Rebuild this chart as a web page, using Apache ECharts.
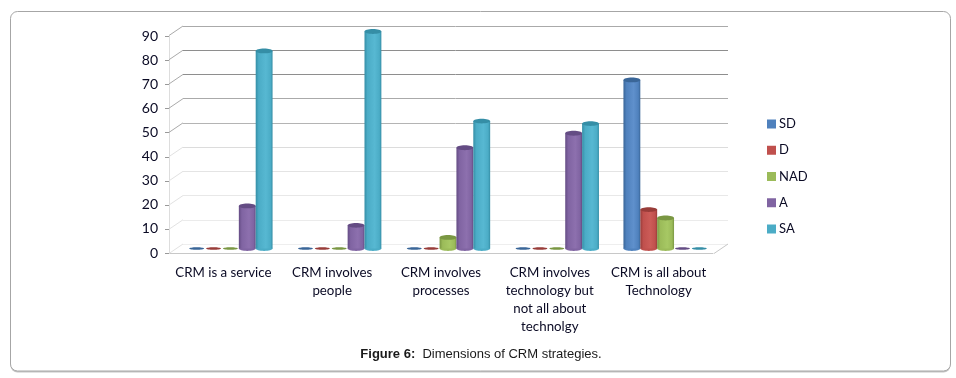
<!DOCTYPE html>
<html lang="en">
<head>
    <meta charset="UTF-8">
    <title>Dimensions of CRM strategies</title>
    <script src="https://cdn.jsdelivr.net/npm/echarts@6/dist/echarts.min.js"></script>
    <style>
        html, body { margin: 0; padding: 0; background: #fff; }
        #main { width: 956px; height: 378px; }
    </style>
</head>
<body>
    <div id="main"></div>

    <script>
        const categories = [
            'CRM is a service',
            'CRM involves\npeople',
            'CRM involves\nprocesses',
            'CRM involves\ntechnology but\nnot all about\ntechnolgy',
            'CRM is all about\nTechnology'
        ];
        const seriesNames = ['SD', 'D', 'NAD', 'A', 'SA'];
        const sdValues = [0, 0, 0, 0, 70];
        const dValues = [0, 0, 0, 0, 16.5];
        const nadValues = [0, 0, 5, 0, 13];
        const aValues = [18, 10, 42, 48, 0];
        const saValues = [82, 90, 53, 52, 0];
        const yTicks = [0, 10, 20, 30, 40, 50, 60, 70, 80, 90];

        // light, base, dark tones of each cylinder
        const palette = [
            ['#5f90cc', '#4f81bd', '#3a6698'],
            ['#cc5c58', '#c0504d', '#983c39'],
            ['#a7c864', '#9bbb59', '#7a9743'],
            ['#8d70ae', '#8064a2', '#644c84'],
            ['#57b8d2', '#4bacc6', '#358ea6']
        ];
        const allValues = [sdValues, dValues, nadValues, aValues, saValues];

        // depth of the fake 3d box, front wall to back wall
        const depthX = 14;
        const depthY = 9.5;

        var myChart = echarts.init(document.getElementById('main'));

        function cylinder(index) {
            return function (params, api) {
                const top = api.coord([api.value(0), api.value(1)]);
                const base = api.coord([api.value(0), 0]);
                const band = api.size([1, 0])[0];
                const w = band * 0.155;
                const cx = top[0] + (index - 2) * w;
                const rx = w / 2;
                const tones = palette[index];
                if (api.value(1) === 0) {
                    return {
                        type: 'ellipse',
                        shape: { cx: cx, cy: base[1] - 1, rx: rx - 1, ry: 1.3 },
                        style: { fill: tones[2] }
                    };
                }
                const fill = new echarts.graphic.LinearGradient(0, 0, 1, 0, [
                    { offset: 0, color: tones[2] },
                    { offset: 0.18, color: tones[1] },
                    { offset: 0.6, color: tones[0] },
                    { offset: 0.88, color: tones[1] },
                    { offset: 1, color: tones[2] }
                ]);
                return {
                    type: 'group',
                    children: [
                        { type: 'ellipse', shape: { cx: cx, cy: base[1] - 1, rx: rx, ry: 2.4 }, style: { fill: tones[1] } },
                        { type: 'rect', shape: { x: cx - rx, y: top[1], width: w, height: base[1] - 1 - top[1] }, style: { fill: fill } },
                        { type: 'ellipse', shape: { cx: cx, cy: top[1], rx: rx, ry: 2.4 }, style: { fill: tones[2] } }
                    ]
                };
            };
        }

        function wallLine(params, api) {
            const back = api.coord([0, api.value(0)]);
            return {
                type: 'line',
                shape: { x1: back[0], y1: back[1], x2: back[0] - depthX, y2: back[1] + depthY },
                style: { stroke: api.value(0) >= 50 ? '#aaaaaa' : '#e2e2e2', lineWidth: 1 }
            };
        }

        function floorEdge(params, api) {
            const back = api.coord([1, 0]);
            return {
                type: 'line',
                shape: { x1: back[0], y1: back[1], x2: back[0] - depthX, y2: back[1] + depthY },
                style: { stroke: '#c8c8c8', lineWidth: 1 }
            };
        }

        const barSeries = seriesNames.map(function (name, i) {
            return {
                name: name,
                type: 'custom',
                xAxisIndex: 2,
                yAxisIndex: 2,
                itemStyle: { color: palette[i][1] },
                data: allValues[i].map(function (v, c) { return [c, v]; }),
                renderItem: cylinder(i),
                z: 5 + i
            };
        });

        const labelColor = '#0a0a24';

        myChart.setOption({
            animation: false,
            backgroundColor: '#fff',
            textStyle: { fontFamily: 'Lato' },
            title: {
                text: '{b|Figure 6:}{n|  Dimensions of CRM strategies.}',
                left: 476,
                top: 343,
                textAlign: 'center',
                textStyle: {
                    fontWeight: 'normal',
                    rich: {
                        b: { fontFamily: 'Liberation Sans', fontSize: 13, fontWeight: 'bold', color: '#1a1a1a' },
                        n: { fontFamily: 'Liberation Sans', fontSize: 13, fontWeight: 'normal', color: '#1a1a1a' }
                    }
                }
            },
            legend: {
                orient: 'vertical',
                left: 762,
                top: 110,
                icon: 'rect',
                itemWidth: 9,
                itemHeight: 9,
                itemGap: 8.25,
                data: seriesNames,
                selectedMode: false,
                textStyle: { fontFamily: 'Lato', fontSize: 13, color: labelColor, lineHeight: 18, padding: [0, 0, 0, -2] }
            },
            graphic: [
                {
                    type: 'rect',
                    silent: true,
                    z: -11,
                    shape: { x: 10.5, y: 12.5, width: 940, height: 360, r: 7 },
                    style: { fill: '#c4c4c4' }
                },
                {
                    type: 'rect',
                    silent: true,
                    z: -10,
                    shape: { x: 10.5, y: 11.5, width: 940, height: 359.5, r: 7 },
                    style: { fill: '#fff', stroke: '#a6a6a6', lineWidth: 1 }
                }
            ],
            grid: [
                // front plane: carries the axes
                { left: 169, top: 36.5, width: 544, height: 216.5 },
                // back wall: carries the gridlines
                { left: 183, top: 26, width: 545, height: 218 },
                // bars stand in between
                { left: 176, top: 31.5, width: 544, height: 218 }
            ],
            xAxis: [
                {
                    gridIndex: 0,
                    type: 'category',
                    data: categories,
                    axisLine: { lineStyle: { color: '#c8c8c8' } },
                    axisTick: { alignWithLabel: false, length: 5, lineStyle: { color: '#777' } },
                    axisLabel: { interval: 0, margin: 11, fontFamily: 'Lato', fontSize: 13.3, lineHeight: 18, color: labelColor }
                },
                { gridIndex: 1, type: 'value', min: 0, max: 1, show: false },
                { gridIndex: 2, type: 'category', data: categories, show: false }
            ],
            yAxis: [
                {
                    gridIndex: 0,
                    type: 'value',
                    min: 0,
                    max: 90,
                    interval: 10,
                    axisLine: { show: true, lineStyle: { color: '#dddddd' } },
                    axisTick: { show: true, length: 4, lineStyle: { color: '#999' } },
                    axisLabel: { margin: 11, padding: [4, 0, 0, 0], fontFamily: 'Lato', fontSize: 14, color: labelColor },
                    splitLine: { show: false }
                },
                {
                    gridIndex: 1,
                    type: 'value',
                    min: 0,
                    max: 90,
                    interval: 10,
                    axisLine: { show: false },
                    axisTick: { show: false },
                    axisLabel: { show: false },
                    splitLine: {
                        show: true,
                        lineStyle: {
                            width: 1,
                            color: ['#eeeeee', '#ebebeb', '#e8e8e8', '#e4e4e4', '#dcdcdc', '#b4b4b4', '#aaaaaa', '#8e8e8e', '#8e8e8e', '#aaaaaa']
                        }
                    }
                },
                { gridIndex: 2, type: 'value', min: 0, max: 90, interval: 10, show: false }
            ],
            series: [
                {
                    name: 'wall',
                    type: 'custom',
                    xAxisIndex: 1,
                    yAxisIndex: 1,
                    silent: true,
                    data: yTicks.map(function (t) { return [t]; }),
                    encode: { y: 0 },
                    renderItem: wallLine,
                    z: 1
                },
                {
                    name: 'floor',
                    type: 'custom',
                    xAxisIndex: 1,
                    yAxisIndex: 1,
                    silent: true,
                    data: [[0]],
                    encode: { y: 0 },
                    renderItem: floorEdge,
                    z: 1
                }
            ].concat(barSeries)
        });
    </script>
</body>
</html>
